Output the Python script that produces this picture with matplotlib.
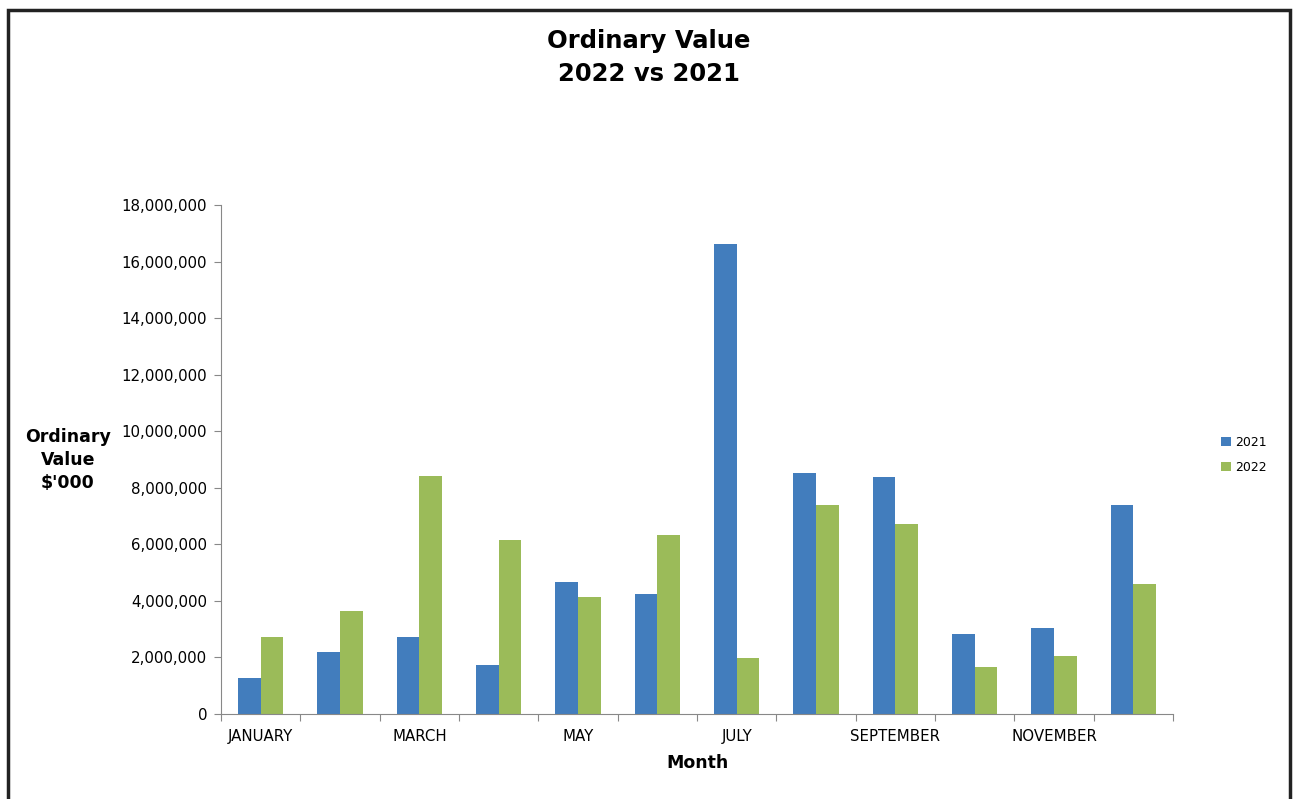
import matplotlib.pyplot as plt
import matplotlib.patches as mpatches
import numpy as np

plt.rcParams['font.family'] = ['DejaVu Sans']

months = ['JANUARY', 'FEBRUARY', 'MARCH', 'APRIL', 'MAY', 'JUNE',
          'JULY', 'AUGUST', 'SEPTEMBER', 'OCTOBER', 'NOVEMBER', 'DECEMBER']
value_2021 = [1270000, 2190000, 2720000, 1730000, 4670000, 4240000,
              16620000, 8520000, 8380000, 2830000, 3040000, 7390000]
value_2022 = [2720000, 3640000, 8420000, 6150000, 4140000, 6330000,
              1980000, 7390000, 6720000, 1660000, 2050000, 4600000]

blue = '#427DBD'
green = '#9BBB59'

fig = plt.figure(figsize=(12.94, 7.99), dpi=100)
ax = fig.add_axes([0.1708, 0.1064, 0.7357, 0.637])

x = np.arange(len(months))
w = 0.285
ax.bar(x - w / 2, value_2021, w, color=blue, label='2021')
ax.bar(x + w / 2, value_2022, w, color=green, label='2022')

ax.set_xlim(-0.5, 11.5)
ax.set_ylim(0, 18000000)
ax.set_yticks(np.arange(0, 18000001, 2000000))
ax.set_yticklabels([f'{v:,}' for v in range(0, 18000001, 2000000)], fontsize=10.8)

ax.set_xticks(np.arange(-0.5, 12, 1))
ax.set_xticklabels([])
ax.set_xticks(x[::2], minor=True)
ax.set_xticklabels(months[::2], minor=True, fontsize=10.8)
ax.tick_params(axis='x', which='minor', length=0, pad=11)
ax.tick_params(axis='x', which='major', length=5, color='#888888', direction='out')
ax.tick_params(axis='y', length=5, color='#888888', pad=5)

for s in ['top', 'right']:
    ax.spines[s].set_visible(False)
for s in ['left', 'bottom']:
    ax.spines[s].set_color('#888888')

ax.set_xlabel('Month', fontsize=12.5, fontweight='bold', labelpad=7)
fig.text(0.0525, 0.4243, "Ordinary\nValue\n$'000", ha='center', va='center',
         fontsize=12.5, fontweight='bold', linespacing=1.38)

fig.text(0.5015, 0.928, 'Ordinary Value\n2022 vs 2021', ha='center', va='center',
         fontsize=17.5, fontweight='bold', linespacing=1.45)

leg = fig.legend(loc='center left', bbox_to_anchor=(0.935, 0.431), frameon=False,
                 fontsize=9, handlelength=0.75, handleheight=0.75, handletextpad=0.35,
                 labelspacing=0.95)

fig.patches.append(mpatches.Rectangle((0.0062, -0.05), 0.9908, 1.037, transform=fig.transFigure,
                                      fill=False, edgecolor='#222222', linewidth=2.5))

fig.savefig('out.png', dpi=100)
